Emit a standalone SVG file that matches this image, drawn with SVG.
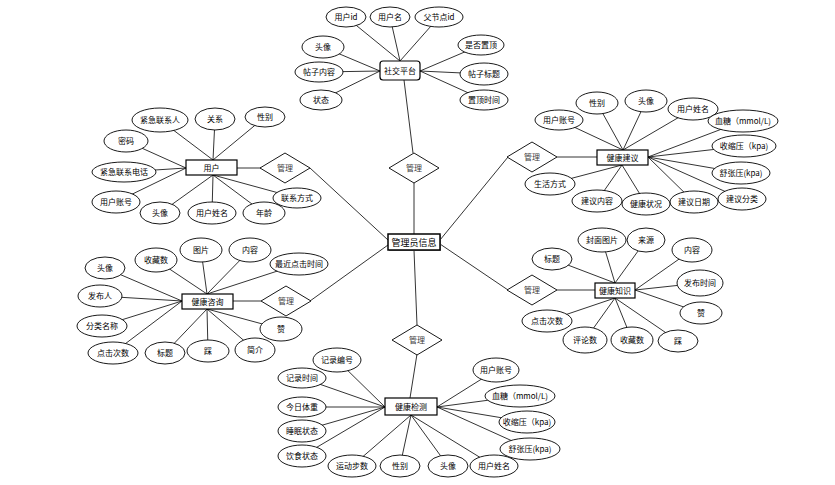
<svg xmlns="http://www.w3.org/2000/svg" width="835" height="485" viewBox="0 0 835 485">
<style>
text{font-family:"Noto Sans CJK SC","Liberation Sans",sans-serif;font-size:8px;text-anchor:middle;fill:#000}
.at ellipse{fill:#fff;stroke:#000;stroke-width:0.9}
.ent rect{fill:#fff;stroke:#000;stroke-width:1.2}
.rel polygon{fill:#fff;stroke:#000;stroke-width:0.9}
.rel text{fill:#404040}
#connectors line{stroke:#000;stroke-width:0.8}
.main{font-size:9px}
</style>
<rect width="835" height="485" fill="#fff"/>
<g id="connectors">
<!-- 社交平台 -->
<line x1="400" y1="61" x2="346" y2="17"/><line x1="400" y1="61" x2="390" y2="17"/><line x1="400" y1="61" x2="439" y2="17"/>
<line x1="380" y1="71" x2="323" y2="47"/><line x1="380" y1="71" x2="319" y2="72"/><line x1="380" y1="71" x2="321" y2="100"/>
<line x1="420" y1="71" x2="481" y2="45"/><line x1="420" y1="71" x2="484" y2="74"/><line x1="420" y1="71" x2="484" y2="100"/>
<line x1="404" y1="80" x2="413" y2="153"/>
<!-- 用户 -->
<line x1="213" y1="160" x2="160" y2="120"/><line x1="213" y1="160" x2="215" y2="119"/><line x1="213" y1="160" x2="265" y2="117"/>
<line x1="186" y1="168" x2="126" y2="141"/><line x1="186" y1="168" x2="124" y2="172"/><line x1="186" y1="168" x2="116" y2="202"/>
<line x1="213" y1="175" x2="160" y2="213"/><line x1="213" y1="175" x2="212" y2="213"/><line x1="213" y1="175" x2="264" y2="213"/><line x1="213" y1="175" x2="297" y2="198"/>
<line x1="237" y1="168" x2="261" y2="168"/>
<!-- 健康建议 -->
<line x1="623" y1="150" x2="559" y2="120"/><line x1="623" y1="150" x2="597" y2="103"/><line x1="623" y1="150" x2="646" y2="101"/><line x1="623" y1="150" x2="693" y2="109"/>
<line x1="648" y1="157" x2="743" y2="121"/><line x1="648" y1="157" x2="744" y2="146"/><line x1="648" y1="157" x2="741" y2="173"/><line x1="648" y1="157" x2="742" y2="199"/><line x1="648" y1="157" x2="694" y2="202"/>
<line x1="622" y1="165" x2="646" y2="204"/><line x1="622" y1="165" x2="597" y2="201"/><line x1="622" y1="165" x2="550" y2="184"/>
<line x1="557" y1="157" x2="597" y2="157"/>
<!-- 健康咨询 -->
<line x1="207" y1="294" x2="156" y2="260"/><line x1="207" y1="294" x2="201" y2="250"/><line x1="207" y1="294" x2="250" y2="250"/><line x1="207" y1="294" x2="299" y2="264"/>
<line x1="182" y1="301" x2="105" y2="268"/><line x1="182" y1="301" x2="100" y2="296"/><line x1="182" y1="301" x2="102" y2="326"/><line x1="182" y1="301" x2="113" y2="353"/>
<line x1="207" y1="309" x2="165" y2="353"/><line x1="207" y1="309" x2="208" y2="351"/><line x1="207" y1="309" x2="255" y2="350"/><line x1="207" y1="309" x2="281" y2="329"/>
<line x1="233" y1="301" x2="261" y2="301"/>
<!-- 健康知识 -->
<line x1="615" y1="283" x2="552" y2="259"/><line x1="615" y1="283" x2="602" y2="240"/><line x1="615" y1="283" x2="646" y2="240"/>
<line x1="635" y1="290" x2="692" y2="250"/><line x1="635" y1="290" x2="700" y2="283"/><line x1="635" y1="290" x2="701" y2="313"/>
<line x1="615" y1="298" x2="678" y2="341"/><line x1="615" y1="298" x2="632" y2="340"/><line x1="615" y1="298" x2="585" y2="340"/><line x1="615" y1="298" x2="547" y2="321"/>
<line x1="557" y1="290" x2="595" y2="290"/>
<!-- 健康检测 -->
<line x1="385" y1="407" x2="337" y2="360"/><line x1="385" y1="407" x2="302" y2="378"/><line x1="385" y1="407" x2="302" y2="407"/><line x1="385" y1="407" x2="302" y2="431"/><line x1="385" y1="407" x2="302" y2="456"/>
<line x1="411" y1="415" x2="352" y2="466"/><line x1="411" y1="415" x2="400" y2="466"/><line x1="411" y1="415" x2="448" y2="466"/><line x1="411" y1="415" x2="494" y2="466"/>
<line x1="437" y1="407" x2="496" y2="370"/><line x1="437" y1="407" x2="520" y2="396"/><line x1="437" y1="407" x2="527" y2="422"/><line x1="437" y1="407" x2="530" y2="449"/>
<line x1="417" y1="354" x2="410" y2="398"/>
<!-- 管理员信息 -->
<line x1="414" y1="183" x2="414" y2="234"/>
<line x1="414" y1="250" x2="417" y2="325"/>
<line x1="310" y1="168" x2="388" y2="240"/>
<line x1="310" y1="301" x2="388" y2="245"/>
<line x1="508" y1="157" x2="440" y2="240"/>
<line x1="508" y1="290" x2="440" y2="244"/>
</g>

<g id="admin" class="ent"><rect x="389" y="235" width="52" height="16" fill="#999" stroke="none" style="fill:#888;stroke:none"/><rect x="388" y="234" width="52" height="16" style="stroke-width:1.5"/><text class="main" x="414" y="245.5">管理员信息</text></g>

<g id="rel-top" class="rel"><polygon points="414,153 439,168 414,183 389,168"/><text x="414" y="171">管理</text></g>
<g id="rel-bottom" class="rel"><polygon points="417,325 442,340 417,355 392,340"/><text x="417" y="343">管理</text></g>
<g id="rel-user" class="rel"><polygon points="285,153 310,168 285,183 260,168"/><text x="285" y="171">管理</text></g>
<g id="rel-consult" class="rel"><polygon points="286,286 311,301 286,316 261,301"/><text x="286" y="304">管理</text></g>
<g id="rel-advice" class="rel"><polygon points="532,142 557,157 532,172 507,157"/><text x="532" y="160">管理</text></g>
<g id="rel-knowledge" class="rel"><polygon points="532,275 557,290 532,305 507,290"/><text x="532" y="293">管理</text></g>

<g id="social" class="ent"><rect x="380" y="61" width="40" height="19" rx="3"/><text x="400" y="73.5">社交平台</text></g>
<g class="at">
<g id="s1"><ellipse cx="346" cy="17" rx="20" ry="10"/><text x="346" y="20">用户id</text></g>
<g id="s2"><ellipse cx="390" cy="17" rx="20" ry="10"/><text x="390" y="20">用户名</text></g>
<g id="s3"><ellipse cx="439" cy="17" rx="24" ry="10"/><text x="439" y="20">父节点id</text></g>
<g id="s4"><ellipse cx="323" cy="47" rx="21" ry="11"/><text x="323" y="50">头像</text></g>
<g id="s5"><ellipse cx="319" cy="72" rx="24" ry="10"/><text x="319" y="75">帖子内容</text></g>
<g id="s6"><ellipse cx="321" cy="100" rx="21" ry="10"/><text x="321" y="103">状态</text></g>
<g id="s7"><ellipse cx="481" cy="45" rx="23" ry="10"/><text x="481" y="48">是否置顶</text></g>
<g id="s8"><ellipse cx="484" cy="74" rx="24" ry="11"/><text x="484" y="77">帖子标题</text></g>
<g id="s9"><ellipse cx="484" cy="100" rx="24" ry="10"/><text x="484" y="103">置顶时间</text></g>
</g>

<g id="user" class="ent"><rect x="186" y="160" width="51" height="15"/><text x="211.5" y="170.5">用户</text></g>
<g class="at">
<g id="u1"><ellipse cx="160" cy="120" rx="28" ry="12"/><text x="160" y="123">紧急联系人</text></g>
<g id="u2"><ellipse cx="215" cy="119" rx="20" ry="11"/><text x="215" y="122">关系</text></g>
<g id="u3"><ellipse cx="265" cy="117" rx="20" ry="10"/><text x="265" y="120">性别</text></g>
<g id="u4"><ellipse cx="126" cy="141" rx="22" ry="11"/><text x="126" y="144">密码</text></g>
<g id="u5"><ellipse cx="124" cy="172" rx="32" ry="10"/><text x="124" y="175">紧急联系电话</text></g>
<g id="u6"><ellipse cx="116" cy="202" rx="24" ry="11"/><text x="116" y="205">用户账号</text></g>
<g id="u7"><ellipse cx="160" cy="213" rx="20" ry="11"/><text x="160" y="216">头像</text></g>
<g id="u8"><ellipse cx="212" cy="213" rx="24" ry="11"/><text x="212" y="216">用户姓名</text></g>
<g id="u9"><ellipse cx="264" cy="213" rx="21" ry="11"/><text x="264" y="216">年龄</text></g>
<g id="u10"><ellipse cx="297" cy="198" rx="24" ry="10"/><text x="297" y="201">联系方式</text></g>
</g>

<g id="advice" class="ent"><rect x="597" y="150" width="51" height="15"/><text x="622.5" y="160.5">健康建议</text></g>
<g class="at">
<g id="j1"><ellipse cx="559" cy="120" rx="24" ry="10"/><text x="559" y="123">用户账号</text></g>
<g id="j2"><ellipse cx="597" cy="103" rx="21" ry="11"/><text x="597" y="106">性别</text></g>
<g id="j3"><ellipse cx="646" cy="101" rx="21" ry="11"/><text x="646" y="104">头像</text></g>
<g id="j4"><ellipse cx="693" cy="109" rx="25" ry="11"/><text x="693" y="112">用户姓名</text></g>
<g id="j5"><ellipse cx="743" cy="121" rx="35" ry="11"/><text x="743" y="124">血糖（mmol/L)</text></g>
<g id="j6"><ellipse cx="744" cy="146" rx="32" ry="11"/><text x="744" y="149">收缩压（kpa)</text></g>
<g id="j7"><ellipse cx="741" cy="173" rx="29" ry="11"/><text x="741" y="176">舒张压(kpa)</text></g>
<g id="j8"><ellipse cx="742" cy="199" rx="24" ry="11"/><text x="742" y="202">建议分类</text></g>
<g id="j9"><ellipse cx="694" cy="202" rx="24" ry="11"/><text x="694" y="205">建议日期</text></g>
<g id="j10"><ellipse cx="646" cy="204" rx="24" ry="11"/><text x="646" y="207">健康状况</text></g>
<g id="j11"><ellipse cx="597" cy="201" rx="25" ry="11"/><text x="597" y="204">建议内容</text></g>
<g id="j12"><ellipse cx="550" cy="184" rx="25" ry="11"/><text x="550" y="187">生活方式</text></g>
</g>

<g id="consult" class="ent"><rect x="182" y="294" width="51" height="15"/><text x="207.5" y="304.5">健康咨询</text></g>
<g class="at">
<g id="z1"><ellipse cx="156" cy="260" rx="21" ry="12"/><text x="156" y="263">收藏数</text></g>
<g id="z2"><ellipse cx="201" cy="250" rx="21" ry="12"/><text x="201" y="253">图片</text></g>
<g id="z3"><ellipse cx="250" cy="250" rx="21" ry="12"/><text x="250" y="253">内容</text></g>
<g id="z4"><ellipse cx="299" cy="264" rx="29" ry="11"/><text x="299" y="267">最近点击时间</text></g>
<g id="z5"><ellipse cx="105" cy="268" rx="20" ry="11"/><text x="105" y="271">头像</text></g>
<g id="z6"><ellipse cx="100" cy="296" rx="22" ry="11"/><text x="100" y="299">发布人</text></g>
<g id="z7"><ellipse cx="102" cy="326" rx="25" ry="11"/><text x="102" y="329">分类名称</text></g>
<g id="z8"><ellipse cx="113" cy="353" rx="25" ry="11"/><text x="113" y="356">点击次数</text></g>
<g id="z9"><ellipse cx="165" cy="353" rx="20" ry="11"/><text x="165" y="356">标题</text></g>
<g id="z10"><ellipse cx="208" cy="351" rx="21" ry="11"/><text x="208" y="354">踩</text></g>
<g id="z11"><ellipse cx="255" cy="350" rx="20" ry="12"/><text x="255" y="353">简介</text></g>
<g id="z12"><ellipse cx="281" cy="329" rx="21" ry="12"/><text x="281" y="332">赞</text></g>
</g>

<g id="knowledge" class="ent"><rect x="595" y="283" width="40" height="15"/><text x="615" y="293.5">健康知识</text></g>
<g class="at">
<g id="k1"><ellipse cx="552" cy="259" rx="20" ry="11"/><text x="552" y="262">标题</text></g>
<g id="k2"><ellipse cx="602" cy="240" rx="24" ry="12"/><text x="602" y="243">封面图片</text></g>
<g id="k3"><ellipse cx="646" cy="240" rx="19" ry="12"/><text x="646" y="243">来源</text></g>
<g id="k4"><ellipse cx="692" cy="250" rx="20" ry="12"/><text x="692" y="253">内容</text></g>
<g id="k5"><ellipse cx="700" cy="283" rx="23" ry="13"/><text x="700" y="286">发布时间</text></g>
<g id="k6"><ellipse cx="701" cy="313" rx="21" ry="11"/><text x="701" y="316">赞</text></g>
<g id="k7"><ellipse cx="678" cy="341" rx="20" ry="11"/><text x="678" y="344">踩</text></g>
<g id="k8"><ellipse cx="632" cy="340" rx="21" ry="13"/><text x="632" y="343">收藏数</text></g>
<g id="k9"><ellipse cx="585" cy="340" rx="22" ry="13"/><text x="585" y="343">评论数</text></g>
<g id="k10"><ellipse cx="547" cy="321" rx="25" ry="11"/><text x="547" y="324">点击次数</text></g>
</g>

<g id="monitor" class="ent"><rect x="385" y="398" width="52" height="17"/><text x="411" y="409.5">健康检测</text></g>
<g class="at">
<g id="h1"><ellipse cx="337" cy="360" rx="24" ry="12"/><text x="337" y="363">记录编号</text></g>
<g id="h2"><ellipse cx="302" cy="378" rx="24" ry="10"/><text x="302" y="381">记录时间</text></g>
<g id="h3"><ellipse cx="302" cy="407" rx="24" ry="10"/><text x="302" y="410">今日体重</text></g>
<g id="h4"><ellipse cx="302" cy="431" rx="24" ry="11"/><text x="302" y="434">睡眠状态</text></g>
<g id="h5"><ellipse cx="302" cy="456" rx="24" ry="11"/><text x="302" y="459">饮食状态</text></g>
<g id="h6"><ellipse cx="352" cy="466" rx="24" ry="11"/><text x="352" y="469">运动步数</text></g>
<g id="h7"><ellipse cx="400" cy="466" rx="20" ry="11"/><text x="400" y="469">性别</text></g>
<g id="h8"><ellipse cx="448" cy="466" rx="20" ry="11"/><text x="448" y="469">头像</text></g>
<g id="h10"><ellipse cx="496" cy="370" rx="23" ry="12"/><text x="496" y="373">用户账号</text></g>
<g id="h11"><ellipse cx="520" cy="396" rx="35" ry="11"/><text x="520" y="399">血糖（mmol/L)</text></g>
<g id="h12"><ellipse cx="527" cy="422" rx="28" ry="11"/><text x="527" y="425">收缩压（kpa)</text></g>
<g id="h13"><ellipse cx="530" cy="449" rx="30" ry="11"/><text x="530" y="452">舒张压(kpa)</text></g>
<g id="h9"><ellipse cx="494" cy="466" rx="24" ry="11"/><text x="494" y="469">用户姓名</text></g>
</g>
</svg>
